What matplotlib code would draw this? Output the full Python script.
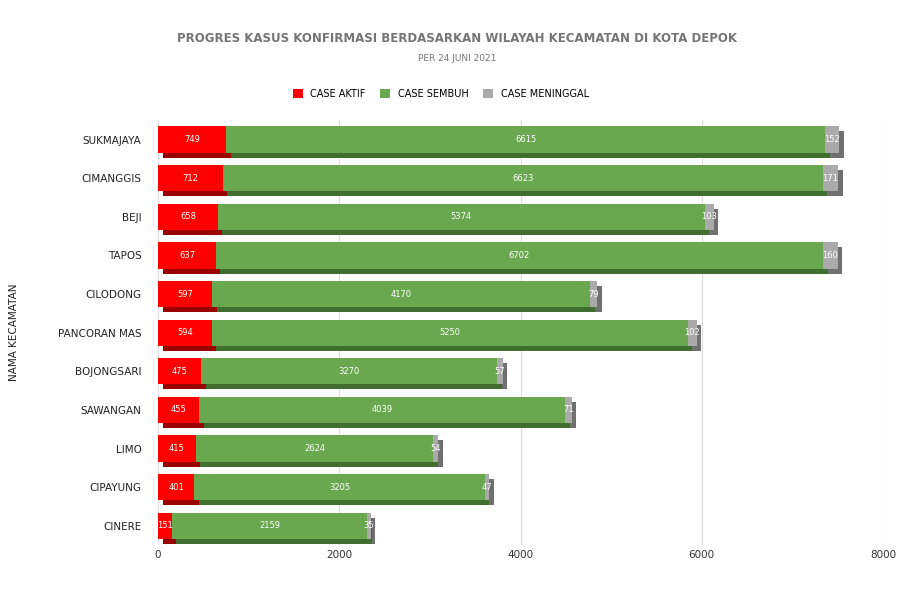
import matplotlib.pyplot as plt
import numpy as np

kecamatan = ["SUKMAJAYA", "CIMANGGIS", "BEJI", "TAPOS", "CILODONG", "PANCORAN MAS",
             "BOJONGSARI", "SAWANGAN", "LIMO", "CIPAYUNG", "CINERE"]
aktif = [749, 712, 658, 637, 597, 594, 475, 455, 415, 401, 151]
sembuh = [6615, 6623, 5374, 6702, 4170, 5250, 3270, 4039, 2624, 3205, 2159]
meninggal = [152, 171, 103, 160, 79, 102, 57, 71, 54, 47, 35]

series = [("CASE AKTIF", aktif, "#ff0000", "#990000"),
          ("CASE SEMBUH", sembuh, "#6aa84f", "#3f6e2e"),
          ("CASE MENINGGAL", meninggal, "#aaaaaa", "#707070")]

fig = plt.figure(figsize=(9.14, 6.01), dpi=100)
ax = fig.add_axes([0.173, 0.093, 0.793, 0.707])
y = np.arange(len(kecamatan))
h = 0.68
dx, dy = 50, 0.13

left = np.zeros(len(kecamatan))
for name, vals, col, dark in series:
    vals = np.array(vals)
    ax.barh(y + dy, vals, left=left + dx, height=h, color=dark, zorder=2)
    left += vals
left = np.zeros(len(kecamatan))
for name, vals, col, dark in series:
    vals = np.array(vals)
    ax.barh(y, vals, left=left, height=h, color=col, label=name, zorder=3)
    for yi, l, v in zip(y, left, vals):
        ax.text(l + v / 2, yi, str(v), ha="center", va="center", color="white",
                fontsize=6, zorder=4)
    left += vals

ax.set_yticks(y)
ax.set_yticklabels(kecamatan, fontsize=7.5, color="#222222")
ax.set_ylim(10.5, -0.5)
ax.set_xlim(0, 8000)
ax.set_xticks([0, 2000, 4000, 6000, 8000])
ax.tick_params(axis="x", labelsize=7.5, colors="#333333", length=0)
ax.tick_params(axis="y", length=0, pad=12)
ax.grid(axis="x", color="#dddddd", zorder=0)
for s in ax.spines.values():
    s.set_visible(False)
ax.set_ylabel("NAMA KECAMATAN", fontsize=7.5, color="#222222", labelpad=28)

fig.text(0.5, 0.93, "PROGRES KASUS KONFIRMASI BERDASARKAN WILAYAH KECAMATAN DI KOTA DEPOK",
         ha="center", fontsize=8.5, fontweight="bold", color="#757575")
fig.text(0.5, 0.898, "PER 24 JUNI 2021", ha="center", fontsize=6.5, color="#757575")
ax.legend(loc="lower center", bbox_to_anchor=(0.39, 1.0), ncol=3, frameon=False,
          fontsize=7, handlelength=1, handleheight=1, columnspacing=1.5,
          borderaxespad=1.8)

fig.savefig("out.png", dpi=100)
